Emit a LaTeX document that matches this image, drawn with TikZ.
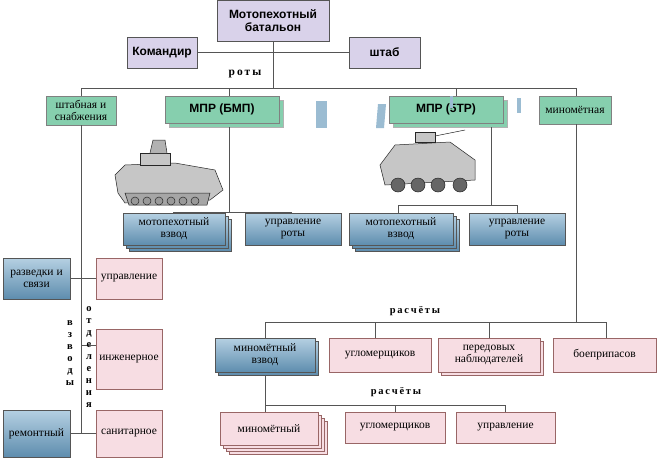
\documentclass[tikz,border=0pt]{standalone}
\usepackage{fontspec}
\setmainfont{Liberation Serif}
\setsansfont{Liberation Sans}
\usetikzlibrary{calc}
\definecolor{purp}{HTML}{D9D2EA}
\definecolor{grn}{HTML}{86CFAE}
\definecolor{bluT}{HTML}{B5D0E2}
\definecolor{bluB}{HTML}{5E8DAE}
\definecolor{pnk}{HTML}{F7DDE3}
\definecolor{ln}{HTML}{555555}
\tikzset{
 base/.style={draw=ln,line width=0.9pt,inner sep=1pt,align=center,font=\fontsize{11.5}{12}\selectfont},
 pbox/.style={base,fill=purp,font=\sffamily\bfseries\fontsize{12}{13}\selectfont},
 gbox/.style={base,fill=grn,draw=gray},
 gboxs/.style={base,fill=grn,draw=gray,font=\sffamily\bfseries\fontsize{12}{13}\selectfont},
 bbox/.style={base,top color=bluT,bottom color=bluB,draw=ln},
 kbox/.style={base,fill=pnk,draw=gray!80!red},
 wire/.style={draw=ln,line width=1pt},
 lbl/.style={font=\bfseries\fontsize{10.5}{11}\selectfont},
 veh/.style={fill=gray!45,draw=gray!30!black,line width=0.5pt}
}
\newcommand\bx[7]{\node[#2,minimum width={(#5-#3)*1pt},minimum height={(#6-#4)*1pt}] (#1) at ({(#3+#5)/2},{(#4+#6)/2}) {#7};}
\newcommand\sh[6]{\foreach \k in {#6,...,1}{\draw[#1] ({#2+3*\k},{#3+3*\k}) rectangle ({#4+3*\k},{#5+3*\k});}}
\begin{document}
\begin{tikzpicture}[x=1pt,y=-1pt]
\useasboundingbox[fill=white] (0,0) rectangle (659,459);
% top
\bx{bat}{pbox}{217}{0}{329}{41}{Мотопехотный\\батальон}
\bx{kom}{pbox}{127}{37}{197}{68}{Командир}
\bx{sht}{pbox}{349}{37}{420}{68}{штаб}
\draw[wire] (kom.east) -- (sht.west);
\coordinate (hub) at (273,88);
\draw[wire] (273,41) -- (hub);
\node[lbl,font=\bfseries\fontsize{11.5}{12}\selectfont] at (245,74) {р\,о\,т\,ы};
\draw[wire] (81,88) -- (576,88);
% companies
\draw[gray!60,fill=grn] (169,100) rectangle (283,127);
\draw[gray!60,fill=grn] (393,100) rectangle (507,127);
\bx{shs}{gbox}{46}{96}{116}{125}{штабная и\\снабжения}
\bx{bmp}{gboxs}{165}{96}{279}{123}{МПР (БМП)}
\bx{btr}{gboxs}{389}{96}{503}{123}{МПР (5ТР)}
\bx{min}{gbox}{539}{96}{611}{124}{миномётная}
\foreach \xx in {81,229,456,576} \draw[wire] (\xx,88) -- (\xx,96);
% decorative fragments
\fill[bluT!70!bluB] (316,101) rectangle (327,128);
\fill[bluT!70!bluB] (378,104) -- (386,104) -- (384,128) -- (376,128) -- cycle;
\fill[bluT!70!bluB] (450,96) rectangle (453,108);
\fill[bluT!70!bluB] (517,98) rectangle (521,113);
% vehicles
\begin{scope}[shift={(115,165)}]
\draw[veh] (0,10) -- (10,0) -- (60,-2) -- (100,5) -- (108,25) -- (95,35) -- (10,38) -- (3,28) -- cycle;
\draw[veh] (25,0) rectangle (55,-12);
\draw[veh,fill=gray!60] (35,-12) -- (38,-25) -- (50,-25) -- (52,-12);
\draw[veh,fill=gray!70] (10,28) -- (95,28) -- (92,40) -- (14,40) -- cycle;
\foreach \w in {20,32,44,56,68,80} \draw[veh,fill=gray!80] (\w,36) circle (4);
\end{scope}
\begin{scope}[shift={(380,150)}]
\draw[veh] (0,15) -- (15,-5) -- (70,-8) -- (95,10) -- (95,30) -- (5,35) -- cycle;
\draw[veh] (35,-8) rectangle (55,-18);
\draw[veh] (55,-14) -- (85,-20);
\foreach \w in {18,38,58,80} \draw[veh,fill=gray!80!black] (\w,35) circle (7);
\end{scope}
% platoons
\draw[wire] (229,127) -- (229,212);
\draw[wire] (173,213) -- (173,212) -- (291,212) -- (291,213);
\sh{draw=ln,top color=bluT,bottom color=bluB}{123}{213}{225}{245}{2}
\bx{mv1}{bbox}{123}{213}{225}{245}{мотопехотный\\взвод}
\bx{ur1}{bbox}{245}{213}{341}{245}{управление\\роты}
\draw[wire] (491,127) -- (491,205);
\draw[wire] (398,213) -- (398,205) -- (517,205) -- (517,213);
\sh{draw=ln,top color=bluT,bottom color=bluB}{349}{213}{453}{245}{2}
\bx{mv2}{bbox}{349}{213}{453}{245}{мотопехотный\\взвод}
\bx{ur2}{bbox}{469}{213}{565}{245}{управление\\роты}
% left column
\draw[wire] (81,125) -- (81,433);
\bx{raz}{bbox}{3}{258}{70}{299}{разведки и\\связи}
\bx{upr}{kbox}{96}{258}{162}{299}{управление}
\bx{ing}{kbox}{96}{329}{162}{389}{инженерное}
\bx{rem}{bbox}{3}{410}{70}{457}{ремонтный}
\bx{san}{kbox}{96}{410}{162}{457}{санитарное}
\draw[wire] (raz.east) -- (upr.west);
\draw[wire] (81,345) -- (96,345);
\draw[wire] (rem.east) -- (san.west);
\node[lbl,align=center,font=\bfseries\fontsize{10.5}{12}\selectfont] at (70,353) {в\\з\\в\\о\\д\\ы};
\node[lbl,align=center,font=\bfseries\fontsize{10.5}{12}\selectfont] at (89,357) {о\\т\\д\\е\\л\\е\\н\\и\\я};
% mortar company
\draw[wire] (576,124) -- (576,322);
\node[lbl] at (415,311) {р\,а\,с\,ч\,ё\,т\,ы};
\draw[wire] (265,338) -- (265,322) -- (606,322) -- (606,338);
\foreach \xx in {375,489} \draw[wire] (\xx,322) -- (\xx,338);
\sh{draw=ln,top color=bluT,bottom color=bluB}{215}{338}{315}{372}{1}
\bx{mvz}{bbox}{215}{338}{315}{372}{миномётный\\взвод}
\bx{ugl}{kbox}{329}{338}{431}{372}{угломерщиков}
\sh{draw=gray!80!red,fill=pnk}{438}{338}{540}{372}{1}
\bx{per}{kbox}{438}{338}{540}{372}{передовых\\наблюдателей}
\bx{boe}{kbox}{553}{338}{656}{372}{боеприпасов}
\draw[wire] (265,375) -- (265,405);
\node[lbl] at (396,392) {р\,а\,с\,ч\,ё\,т\,ы};
\draw[wire] (265,405) -- (505,405) -- (505,412);
\draw[wire] (395,405) -- (395,412);
\draw[wire] (265,405) -- (265,412);
\sh{draw=gray!80!red,fill=pnk}{220}{412}{318}{445}{3}
\bx{mn}{kbox}{220}{412}{318}{445}{миномётный}
\bx{ug2}{kbox}{345}{412}{445}{443}{угломерщиков}
\bx{up2}{kbox}{456}{412}{555}{443}{управление}
\end{tikzpicture}
\end{document}
